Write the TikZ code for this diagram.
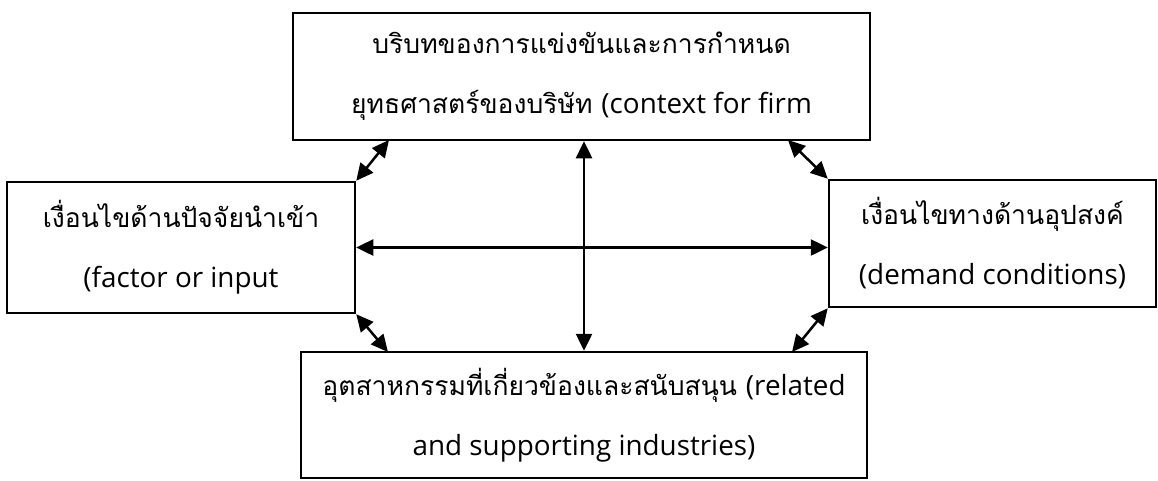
\documentclass[tikz,border=0pt]{standalone}
\usepackage{fontspec}
\setmainfont[Script=Thai]{Loma}
\newfontfamily\latinfont[Scale=1.05]{Open Sans}
\usetikzlibrary{arrows.meta}
\newcommand{\lt}[1]{{\latinfont #1}}
\tikzset{
  box/.style={draw, line width=2.5pt, inner sep=0pt, align=center,
    font=\fontsize{26.5}{60}\selectfont},
  link/.style={line width=2.5pt, {Triangle[length=17pt,width=16pt]}-{Triangle[length=17pt,width=16pt]}}
}
\begin{document}
\begin{tikzpicture}[x=1pt,y=-1pt]
\useasboundingbox (0,0) rectangle (1158,480);
\node[box, minimum width=577pt, minimum height=127pt] (top) at (581.5,76.5)
  {บริบทของการแข่งขันและการกำหนด\\ยุทธศาสตร์ของบริษัท \lt{(context for firm}};
\node[box, minimum width=348pt, minimum height=131pt] (left) at (181,247.5)
  {เงื่อนไขด้านปัจจัยนำเข้า\\\lt{(factor or input}};
\node[box, minimum width=327pt, minimum height=127pt] (right) at (992.5,243.5)
  {เงื่อนไขทางด้านอุปสงค์\\\lt{(demand conditions)}};
\node[box, minimum width=566pt, minimum height=126pt] (bottom) at (584,415)
  {อุตสาหกรรมที่เกี่ยวข้องและสนับสนุน \lt{(related}\\\lt{and supporting industries)}};
\coordinate (tl) at (389,140);
\coordinate (tr) at (788,140);
\coordinate (bl) at (388,352);
\coordinate (br) at (792,352);
\draw[link] (left.north east) -- (tl);
\draw[link] (tr) -- (right.north west);
\draw[link] (left.south east) -- (bl);
\draw[link] (right.south west) -- (br);
\draw[link] (left.east) -- (left.east -| right.west);
\draw[link] (bottom.north) -- (bottom.north |- top.south);
\end{tikzpicture}
\end{document}
